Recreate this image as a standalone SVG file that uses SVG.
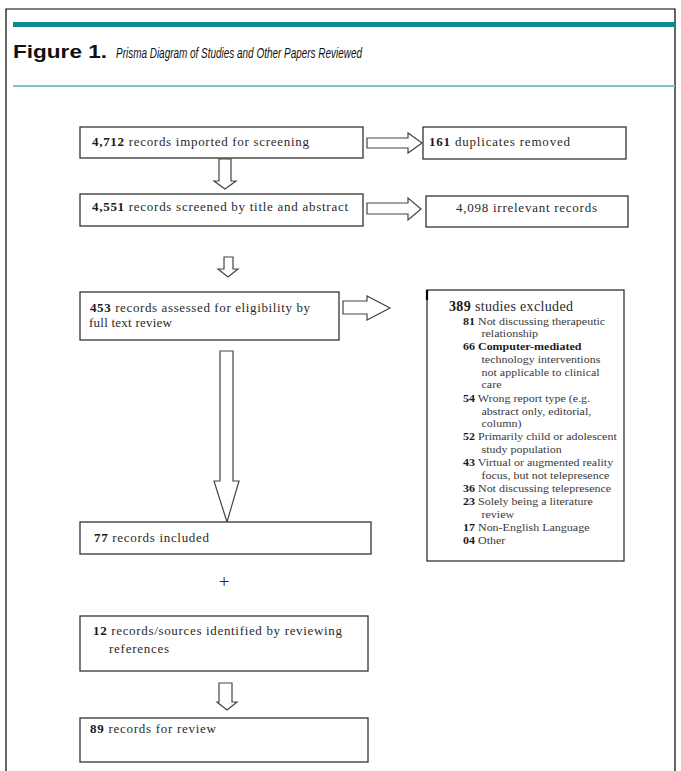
<svg xmlns="http://www.w3.org/2000/svg" width="681" height="771" viewBox="0 0 681 771">
<style>
.box{fill:#fff;stroke:#333;stroke-width:1.3}
.arr{fill:#fff;stroke:#444;stroke-width:1.2;stroke-linejoin:miter}
.t{font-family:"Liberation Serif","Times New Roman",serif;font-size:13px;fill:#2a2a2a}
.s{font-family:"Liberation Serif","Times New Roman",serif;font-size:11px;fill:#3a3a3a}
.b{font-weight:bold;fill:#1a1a1a}
.ttl{font-family:"Liberation Sans",Arial,sans-serif;fill:#111}
</style>
<rect x="0" y="0" width="681" height="771" fill="#fff"/>
<g id="frame">
<path d="M6,771 V9 H675 V771" fill="none" stroke="#000" stroke-width="1.2"/>
<rect x="13" y="22" width="662" height="5" fill="#0e8a8f"/>
<rect x="13" y="85" width="662" height="2" fill="#80c4c7"/>
<text class="ttl" x="13" y="58" font-size="18px" font-weight="bold" textLength="94" lengthAdjust="spacingAndGlyphs">Figure 1.</text>
<text class="ttl" x="116" y="58" font-size="15px" font-style="italic" textLength="246" lengthAdjust="spacingAndGlyphs">Prisma Diagram of Studies and Other Papers Reviewed</text>
</g>
<g id="connectors">
<polygon class="arr" points="367,138 408,138 408,133 422,143 408,153 408,148 367,148"/>
<polygon class="arr" points="367,203 408,203 408,198 421,209 408,220 408,214 367,214"/>
<polygon class="arr" points="343,301 367,301 367,296 390,308 367,320 367,314 343,314"/>
<polygon class="arr" points="219,159 231,159 231,181 236,181 225,189 214,181 219,181"/>
<polygon class="arr" points="224,257 233,257 233,269 238,269 228,277 218,269 224,269"/>
<polygon class="arr" points="220,351 233,351 233,481 239,481 227,522 214,481 220,481"/>
<polygon class="arr" points="219,683 232,683 232,702 237,702 227,710 217,702 219,702"/>
</g>
<g id="n1">
<rect class="box" x="80" y="127" width="283" height="31"/>
<text class="t" x="92" y="146" textLength="217" lengthAdjust="spacing"><tspan class="b">4,712</tspan> records imported for screening</text>
</g>
<g id="n2">
<rect class="box" x="423" y="127" width="203" height="32"/>
<text class="t" x="429" y="146" textLength="141" lengthAdjust="spacing"><tspan class="b">161</tspan> duplicates removed</text>
</g>
<g id="n3">
<rect class="box" x="80" y="194" width="283" height="32"/>
<text class="t" x="92" y="211" textLength="256" lengthAdjust="spacing"><tspan class="b">4,551</tspan> records screened by title and abstract</text>
</g>
<g id="n4">
<rect class="box" x="426" y="196" width="202" height="31"/>
<text class="t" x="456" y="212" textLength="141" lengthAdjust="spacing">4,098 irrelevant records</text>
</g>
<g id="n5">
<rect class="box" x="80" y="292" width="259" height="48"/>
<text class="t" x="90" y="312" textLength="220" lengthAdjust="spacing"><tspan class="b">453</tspan> records assessed for eligibility by</text>
<text class="t" x="89" y="327" textLength="83" lengthAdjust="spacing">full text review</text>
</g>
<g id="n6">
<rect class="box" x="427" y="290" width="197" height="271" stroke="#555"/>
<line x1="427" y1="290" x2="427" y2="300" stroke="#000" stroke-width="2.2"/>
<text class="t" x="449" y="311" style="font-size:14px" textLength="124" lengthAdjust="spacing"><tspan class="b">389</tspan> studies excluded</text>
<g transform="translate(463,0) scale(1.09,1) translate(-463,0)">
<text class="s" x="463" y="325"><tspan class="b">81</tspan> Not discussing therapeutic</text>
<text class="s" x="480" y="337">relationship</text>
<text class="s" x="463" y="350"><tspan class="b">66 Computer-mediated</tspan></text>
<text class="s" x="480" y="363">technology interventions</text>
<text class="s" x="480" y="376">not applicable to clinical</text>
<text class="s" x="480" y="388">care</text>
<text class="s" x="463" y="402"><tspan class="b">54</tspan> Wrong report type (e.g.</text>
<text class="s" x="480" y="415">abstract only, editorial,</text>
<text class="s" x="480" y="427">column)</text>
<text class="s" x="463" y="440"><tspan class="b">52</tspan> Primarily child or adolescent</text>
<text class="s" x="480" y="453">study population</text>
<text class="s" x="463" y="466"><tspan class="b">43</tspan> Virtual or augmented reality</text>
<text class="s" x="480" y="479">focus, but not telepresence</text>
<text class="s" x="463" y="492"><tspan class="b">36</tspan> Not discussing telepresence</text>
<text class="s" x="463" y="505"><tspan class="b">23</tspan> Solely being a literature</text>
<text class="s" x="480" y="518">review</text>
<text class="s" x="463" y="531"><tspan class="b">17</tspan> Non-English Language</text>
<text class="s" x="463" y="544"><tspan class="b">04</tspan> Other</text>
</g>
</g>
<g id="n7">
<rect class="box" x="80" y="522" width="291" height="32"/>
<text class="t" x="94" y="542" textLength="115" lengthAdjust="spacing"><tspan class="b">77</tspan> records included</text>
</g>
<g id="plus">
<text class="t" x="224" y="588" style="font-size:19px" text-anchor="middle">+</text>
</g>
<g id="n8">
<rect class="box" x="80" y="616" width="288" height="55"/>
<text class="t" x="93" y="635" textLength="249" lengthAdjust="spacing"><tspan class="b">12</tspan> records/sources identified by reviewing</text>
<text class="t" x="109" y="653" textLength="60" lengthAdjust="spacing">references</text>
</g>
<g id="n9">
<rect class="box" x="80" y="718" width="288" height="44"/>
<text class="t" x="90" y="733" textLength="126" lengthAdjust="spacing"><tspan class="b">89</tspan> records for review</text>
</g>
</svg>
